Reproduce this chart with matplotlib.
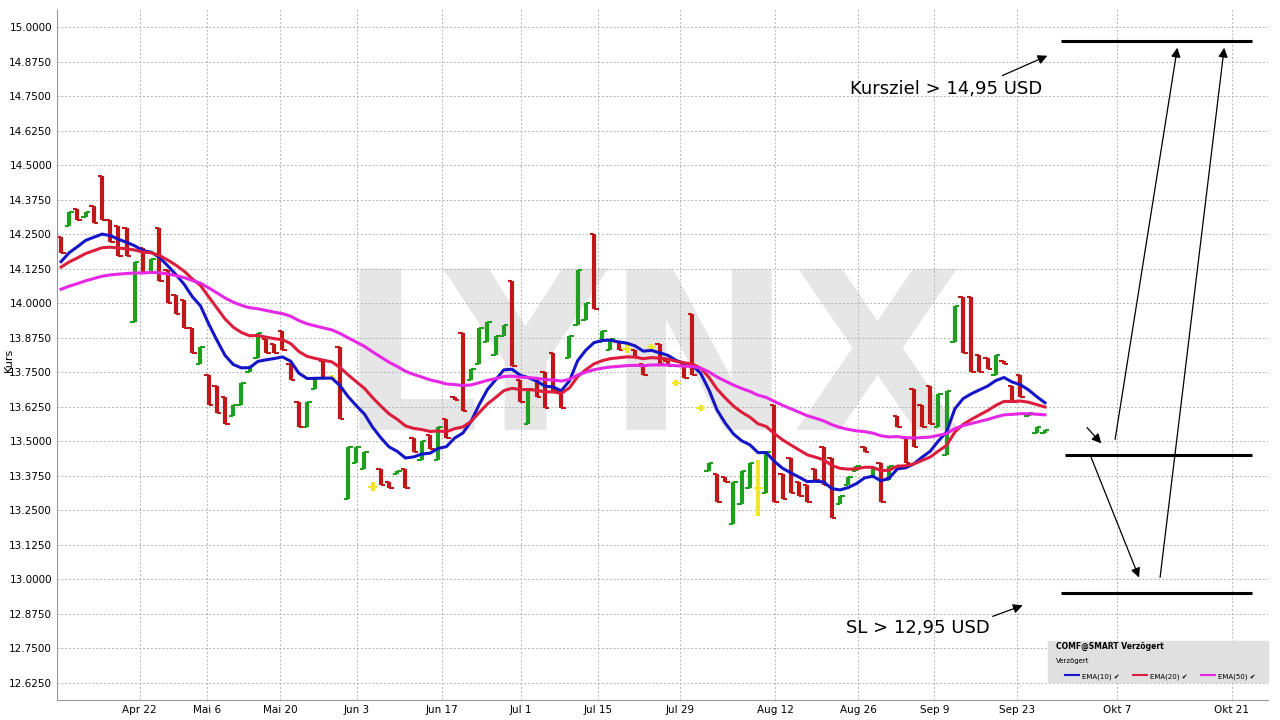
import numpy as np
import matplotlib
matplotlib.use("Agg")
from matplotlib import pyplot as plt
from matplotlib.patches import Rectangle

# --- bar data (high, low, colour) ---
highs = [14.24, 14.33, 14.34, 14.33, 14.35, 14.46, 14.30, 14.28, 14.27, 14.15,
         14.20, 14.16, 14.27, 14.12, 14.03, 14.01, 13.91, 13.84, 13.74, 13.70,
         13.66, 13.63, 13.71, 13.77, 13.89, 13.87, 13.85, 13.90, 13.78, 13.64,
         13.64, 13.73, 13.79, 13.74, 13.84, 13.48, 13.48, 13.46, 13.35, 13.40,
         13.35, 13.39, 13.40, 13.51, 13.50, 13.52, 13.55, 13.58, 13.66, 13.89,
         13.76, 13.91, 13.93, 13.88, 13.92, 14.08, 13.72, 13.69, 13.72, 13.75,
         13.82, 13.68, 13.88, 14.12, 14.00, 14.25, 13.90, 13.87, 13.86, 13.85,
         13.83, 13.78, 13.85, 13.85, 13.79, 13.72, 13.78, 13.96, 13.63, 13.42,
         13.38, 13.37, 13.35, 13.39, 13.42, 13.43, 13.46, 13.63, 13.38, 13.44,
         13.35, 13.34, 13.40, 13.48, 13.44, 13.30, 13.37, 13.41, 13.48, 13.40,
         13.42, 13.41, 13.59, 13.51, 13.69, 13.63, 13.70, 13.67, 13.68, 13.99,
         14.02, 14.02, 13.81, 13.80, 13.81, 13.79, 13.70, 13.74, 13.60, 13.55,
         13.54]
lows = [14.18, 14.28, 14.30, 14.31, 14.29, 14.30, 14.22, 14.17, 14.17, 13.93,
        14.11, 14.11, 14.08, 14.00, 13.96, 13.91, 13.82, 13.78, 13.63, 13.60,
        13.56, 13.59, 13.63, 13.75, 13.80, 13.82, 13.82, 13.83, 13.72, 13.55,
        13.55, 13.69, 13.73, 13.72, 13.58, 13.29, 13.42, 13.40, 13.32, 13.34,
        13.33, 13.38, 13.33, 13.46, 13.43, 13.47, 13.43, 13.51, 13.65, 13.61,
        13.72, 13.78, 13.86, 13.81, 13.88, 13.77, 13.64, 13.56, 13.66, 13.62,
        13.68, 13.62, 13.80, 13.92, 13.94, 13.98, 13.86, 13.83, 13.83, 13.82,
        13.80, 13.74, 13.83, 13.78, 13.77, 13.70, 13.73, 13.74, 13.61, 13.39,
        13.28, 13.35, 13.20, 13.27, 13.33, 13.23, 13.31, 13.28, 13.29, 13.31,
        13.30, 13.28, 13.36, 13.34, 13.22, 13.27, 13.34, 13.39, 13.46, 13.37,
        13.28, 13.36, 13.55, 13.42, 13.48, 13.55, 13.56, 13.55, 13.45, 13.86,
        13.82, 13.75, 13.75, 13.76, 13.74, 13.78, 13.64, 13.66, 13.59, 13.53,
        13.53]
colors = list("rgrgrrrrrg" "rgrrrrrgrr" "rggggrrrrr" "ggryrgggyr"
              "rgrrgrgrrr" "gggggrrgrr" "rrgggrggry" "rryrryrryg"
              "rrgggygrrr" "rrrrrgggrg" "rgrrrrrggg" "rrrrgrrrgg" "g")

ema_start = {"EMA(10)": 14.15, "EMA(20)": 14.13, "EMA(50)": 14.05}
ema_span = {"EMA(10)": 10, "EMA(20)": 20, "EMA(50)": 50}
ema_color = {"EMA(10)": "#1414c8", "EMA(20)": "#dc1e3c", "EMA(50)": "#e628e6"}

tick_labels = ["Apr 22", "Mai 6", "Mai 20", "Jun 3", "Jun 17", "Jul 1", "Jul 15",
               "Jul 29", "Aug 12", "Aug 26", "Sep 9", "Sep 23", "Okt 7", "Okt 21"]
tick_pos = [9.6, 17.8, 26.7, 36.1, 46.5, 56.1, 65.5, 75.5, 87.1, 97.2, 106.5,
            116.6, 128.8, 142.8]

target_levels = [14.95, 13.45, 12.95]

# --- derive open/close from bar colour ---
highs = np.array(highs)
lows = np.array(lows)
opens, closes = [], []
for h, l, c in zip(highs, lows, colors):
    if c == "g":
        opens.append(l); closes.append(h)
    elif c == "r":
        opens.append(h); closes.append(l)
    else:
        opens.append((h + l) / 2); closes.append((h + l) / 2)
closes = np.array(closes)
x = np.arange(len(highs))

fig = plt.figure(figsize=(12.8, 7.2), dpi=100)
ax = fig.add_axes([57 / 1280, 20 / 720, 1211 / 1280, 690 / 720])
ax.set_xlim(-0.5, 147.2)
ax.set_ylim(12.5616, 15.0616)

ax.text(72, 13.76, "LYNX", fontsize=160, fontweight="bold", color="#e6e6e6",
        ha="center", va="center", zorder=0)

col_map = {"g": "#1ea01e", "r": "#c01818", "y": "#f0e630"}
for xi, h, l, o, c, k in zip(x, highs, lows, opens, closes, colors):
    cc = col_map[k]
    ax.vlines(xi, l, h, color=cc, lw=3, zorder=2)
    ax.hlines(o, xi - 0.55, xi, color=cc, lw=1.5, zorder=2)
    ax.hlines(c, xi, xi + 0.55, color=cc, lw=1.5, zorder=2)

for name in ema_start:
    alpha = 2 / (ema_span[name] + 1)
    e = [ema_start[name]]
    for c in closes[1:]:
        e.append(e[-1] + alpha * (c - e[-1]))
    ax.plot(x, e, color=ema_color[name], lw=2.2, zorder=3)

for lvl, x0 in zip(target_levels, [122, 122.5, 122]):
    ax.hlines(lvl, x0, 145.2, color="black", lw=2.2, zorder=4)

arrows = [((114.5, 14.82), (120.6, 14.90)),
          ((128.5, 13.496), (136.2, 14.935)),
          ((134.0, 12.996), (141.9, 14.935)),
          ((124.9, 13.556), (127.1, 13.484)),
          ((125.5, 13.45), (131.6, 12.996)),
          ((113.3, 12.861), (117.6, 12.908))]
for s, e in arrows:
    ax.annotate("", xy=e, xytext=s,
                arrowprops=dict(arrowstyle="-|>", color="black", lw=0.9,
                                mutation_scale=14), zorder=5)
ax.text(107.9, 14.775, "Kursziel > 14,95 USD", fontsize=13, ha="center", va="center")
ax.text(104.5, 12.822, "SL > 12,95 USD", fontsize=13, ha="center", va="center")

ax.set_yticks(np.arange(12.625, 15.001, 0.125))
ax.yaxis.set_major_formatter(matplotlib.ticker.FormatStrFormatter("%.4f"))
ax.set_xticks(tick_pos)
ax.set_xticklabels(tick_labels)
ax.tick_params(labelsize=7.5, length=0)
ax.grid(True, color="#b4b4b4", ls=(0, (2, 2)), lw=0.7)
ax.set_axisbelow(True)
fig.text(4 / 1280, 0.5, "Kurs", fontsize=8, rotation=90, va="center", ha="left")
for s in ["top", "right"]:
    ax.spines[s].set_visible(False)
ax.spines["left"].set_color("#999999")
ax.spines["bottom"].set_color("#999999")

# legend box
fig.patches.append(Rectangle((1048 / 1280, 38 / 720), 220 / 1280, 41 / 720,
                             transform=fig.transFigure, color="#e0e0e0", zorder=6))
fig.text(1056 / 1280, 71 / 720, "COMF@SMART Verzögert", fontsize=5.5, fontweight="bold", zorder=7)
fig.text(1056 / 1280, 57 / 720, "Verzögert", fontsize=5, zorder=7)
for i, name in enumerate(ema_start):
    x0 = (1065 + i * 68) / 1280
    fig.lines.append(plt.Line2D([x0, x0 + 14 / 1280], [45 / 720, 45 / 720],
                                transform=fig.transFigure, color=ema_color[name], lw=1.5, zorder=7))
    fig.text(x0 + 17 / 1280, 42 / 720, name + " ✔", fontsize=5, zorder=7)

fig.savefig("out.png", dpi=100)
